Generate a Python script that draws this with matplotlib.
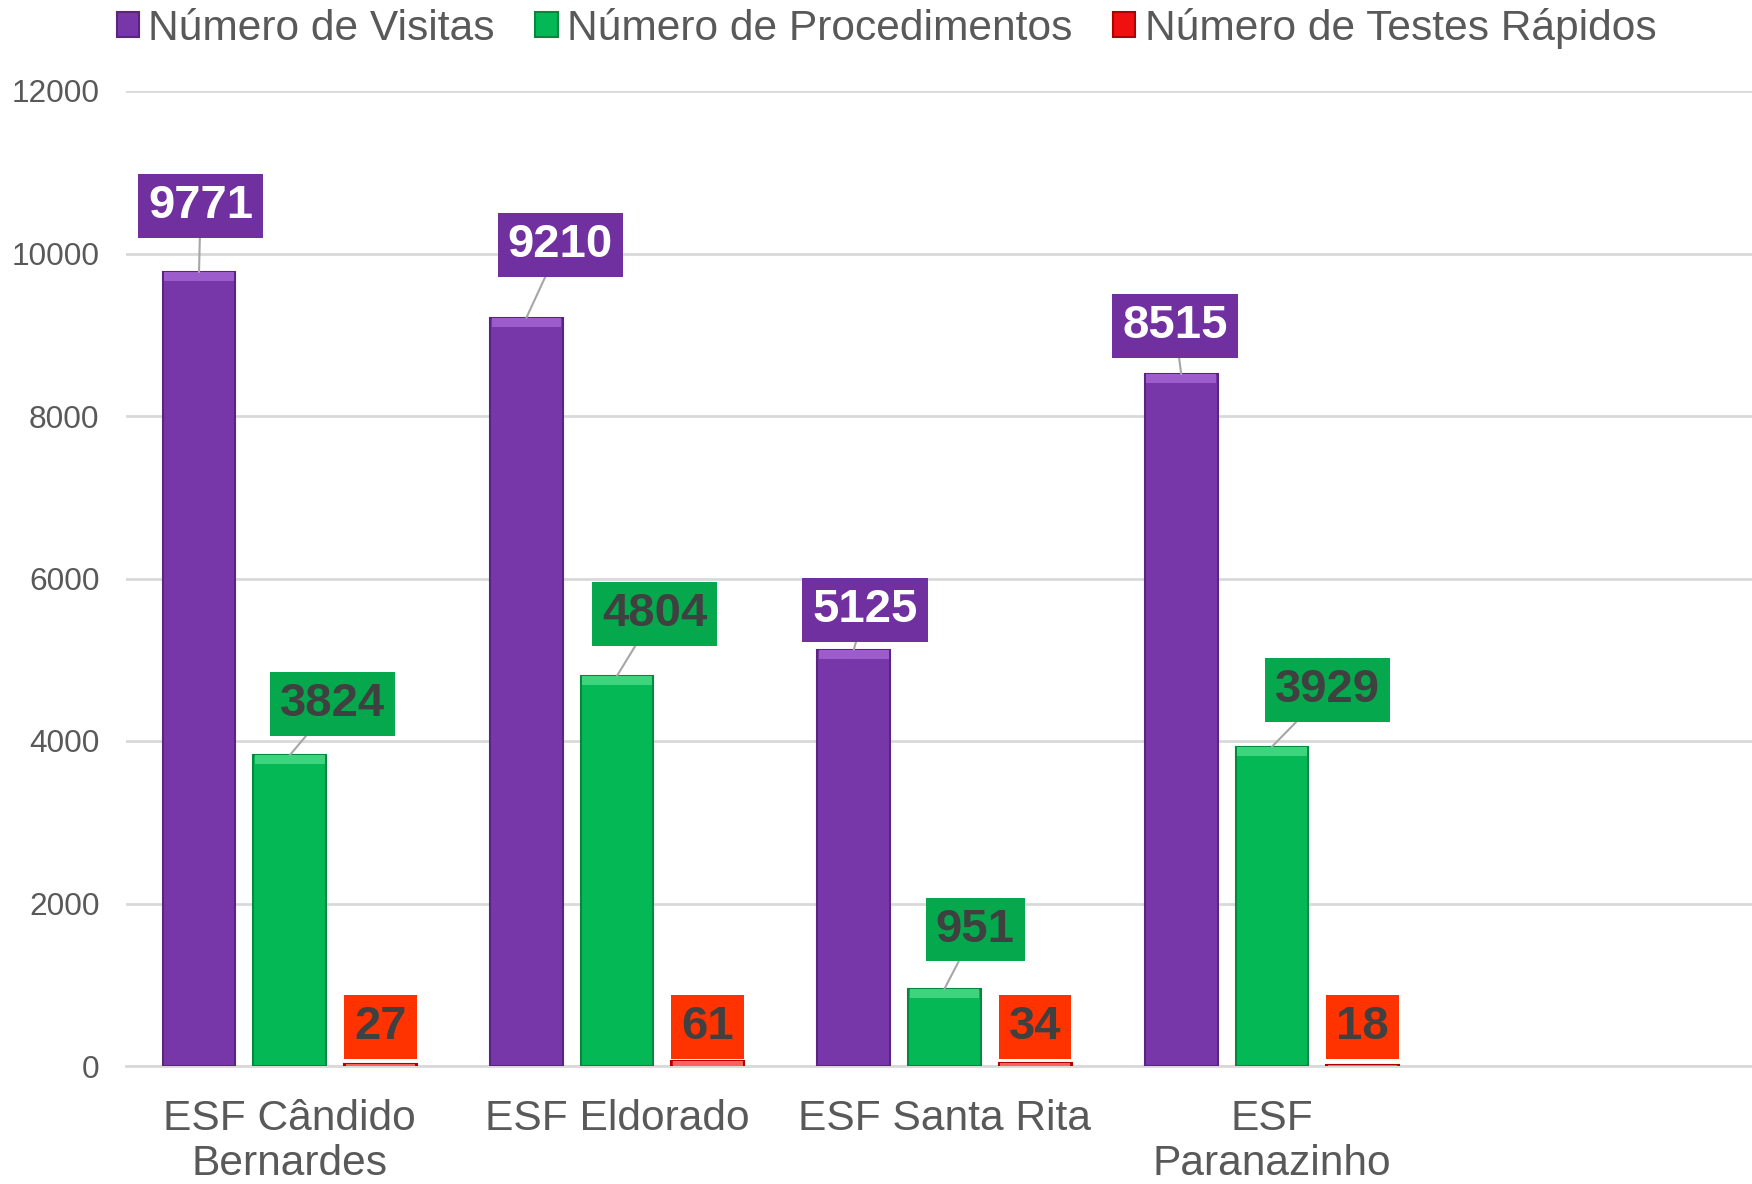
import matplotlib
matplotlib.use('Agg')
import matplotlib.pyplot as plt
from matplotlib.patches import Patch
import numpy as np

plt.rcParams['font.family'] = ['Liberation Sans', 'DejaVu Sans']

categories = ['ESF Cândido\nBernardes', 'ESF Eldorado', 'ESF Santa Rita', 'ESF\nParanazinho', '']
series_names = ['Número de Visitas', 'Número de Procedimentos', 'Número de Testes Rápidos']
visitas = [9771, 9210, 5125, 8515]
procedimentos = [3824, 4804, 951, 3929]
testes = [27, 61, 34, 18]
y_ticks = [0, 2000, 4000, 6000, 8000, 10000, 12000]

# label placement: (x offset from bar in category units, label centre in data units)
visitas_label_pos = [(0.005, 10585), (0.103, 10108), (0.034, 5612), (-0.019, 9104)]
proc_label_pos = [(0.132, 4457), (0.115, 5563), (0.094, 1679), (0.170, 4628)]
testes_label_pos = [(0.0, 483), (0.0, 483), (0.0, 483), (0.0, 483)]

bar_colors = ['#7837A8', '#05B856', '#F01010']
bar_edges = ['#5A2580', '#04873F', '#B00000']
bar_highlights = ['#9C5CCC', '#3DD47D', '#FF6060']
box_colors = ['#7030A0', '#06A84D', '#FF3300']
label_text_colors = ['white', '#404040', '#404040']
text_gray = '#595959'
grid_gray = '#D9D9D9'

W, H = 1752, 1184
fig = plt.figure(figsize=(W / 100, H / 100), dpi=100)
ax_left, ax_bottom = 126 / W, 118 / H
ax_w, ax_h = 5 * 327.4 / W, 975 / H
ax = fig.add_axes([ax_left, ax_bottom, ax_w, ax_h])

x = np.arange(len(visitas))
bw = 0.222
step = 0.277
series = [visitas, procedimentos, testes]
label_pos = [visitas_label_pos, proc_label_pos, testes_label_pos]
bevel = 110  # height of the top highlight band, data units

for i, vals in enumerate(series):
    xs = x + (i - 1) * step
    ax.bar(xs, vals, width=bw, color=bar_colors[i], edgecolor=bar_edges[i],
           linewidth=1.5, zorder=3)
    vals_arr = np.asarray(vals, dtype=float)
    band = np.minimum(vals_arr, bevel)
    ax.bar(xs, band, bottom=vals_arr - band, width=bw * 0.96, color=bar_highlights[i],
           linewidth=0, zorder=4)
    for j, v in enumerate(vals):
        dx, ly = label_pos[i][j]
        arrow = dict(arrowstyle='-', color='#A6A6A6', lw=1.5, shrinkA=0, shrinkB=0) if i < 2 else None
        ax.annotate(str(v), xy=(xs[j], v), xytext=(xs[j] + dx, ly), textcoords='data',
                    ha='center', va='center', fontsize=34, fontweight='bold',
                    color=label_text_colors[i],
                    bbox=dict(boxstyle='square,pad=0.21', fc=box_colors[i], ec='none'),
                    arrowprops=arrow, zorder=5)

ax.set_xlim(-0.5, len(categories) - 0.5)
ax.set_ylim(0, 12000)
ax.set_yticks(y_ticks)
ax.set_yticklabels([str(t) for t in y_ticks])
ax.set_xticks(np.arange(len(categories)))
ax.set_xticklabels(categories, linespacing=1.15)
ax.tick_params(axis='y', length=0, pad=19, labelsize=22.8, labelcolor=text_gray)
ax.tick_params(axis='x', length=0, pad=24, labelsize=30.6, labelcolor=text_gray)
ax.yaxis.grid(True, color=grid_gray, linewidth=2, zorder=0)
ax.set_axisbelow(True)
for s in ['top', 'right', 'left']:
    ax.spines[s].set_visible(False)
ax.spines['bottom'].set_color(grid_gray)
ax.spines['bottom'].set_linewidth(2)

handles = [Patch(facecolor=bar_colors[i], edgecolor=bar_edges[i], linewidth=1.5) for i in range(3)]
fig.legend(handles, series_names, loc='center', bbox_to_anchor=(0.506, 0.976), ncol=3,
           frameon=False, fontsize=30.6, handlelength=0.53, handleheight=0.53,
           handletextpad=0.22, columnspacing=0.95, labelcolor=text_gray, borderaxespad=0)

fig.savefig('out.png', dpi=100)
